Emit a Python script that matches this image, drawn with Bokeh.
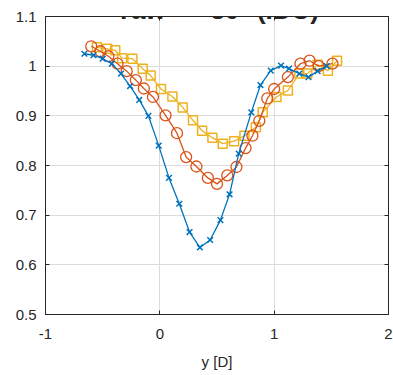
from bokeh.plotting import figure
from bokeh.models import (Range1d, FixedTicker, CustomJSTickFormatter, LinearAxis, Label)
from bokeh.embed import file_html
from bokeh.resources import INLINE

blue_x = [-0.66, -0.58, -0.50, -0.42, -0.34, -0.26, -0.18, -0.10, -0.01, 0.08, 0.17, 0.26, 0.35,
          0.44, 0.53, 0.61, 0.69, 0.80, 0.88, 0.97, 1.06, 1.13, 1.22, 1.30, 1.38, 1.46]
blue_y = [1.025, 1.022, 1.015, 1.005, 0.985, 0.960, 0.932, 0.900, 0.840, 0.775, 0.723, 0.666, 0.635,
          0.650, 0.690, 0.742, 0.824, 0.907, 0.962, 0.991, 1.001, 0.995, 0.985, 0.978, 0.990, 1.000]

red_x = [-0.60, -0.52, -0.45, -0.37, -0.29, -0.21, -0.14, -0.06, 0.05, 0.15, 0.23, 0.32, 0.42,
         0.50, 0.59, 0.67, 0.75, 0.81, 0.87, 0.94, 1.00, 1.12, 1.23, 1.31, 1.39, 1.51]
red_y = [1.040, 1.030, 1.020, 1.005, 0.990, 0.972, 0.955, 0.938, 0.901, 0.865, 0.817, 0.798, 0.775,
         0.763, 0.780, 0.797, 0.835, 0.860, 0.890, 0.935, 0.954, 0.978, 1.005, 1.011, 1.000, 1.005]

yel_x = [-0.55, -0.46, -0.39, -0.33, -0.24, -0.15, -0.08, 0.01, 0.11, 0.20, 0.29, 0.37, 0.46,
         0.55, 0.65, 0.74, 0.84, 0.90, 1.02, 1.12, 1.22, 1.29, 1.38, 1.47, 1.55]
yel_y = [1.038, 1.035, 1.032, 1.016, 1.015, 0.995, 0.981, 0.954, 0.939, 0.917, 0.891, 0.870, 0.856,
         0.844, 0.849, 0.860, 0.877, 0.907, 0.938, 0.951, 0.985, 0.985, 1.003, 0.991, 1.011]

x_ticks = [-1, 0, 1, 2]
y_ticks = [0.5, 0.6, 0.7, 0.8, 0.9, 1.0, 1.1]
title_text = "Yaw = \u221230\u00b0 (IDU)"
x_label = "y [D]"

FONT = "Liberation Sans"
TXT = "#262626"

p = figure(width=393, height=375, output_backend="svg", toolbar_location=None,
           x_range=Range1d(-1, 2), y_range=Range1d(0.5, 1.1),
           min_border_left=45, min_border_right=5, min_border_top=16, min_border_bottom=61)
p.outline_line_color = TXT
p.outline_line_width = 1
p.background_fill_color = "white"
p.border_fill_color = "white"

for ax in [p.xaxis[0], p.yaxis[0]]:
    ax.major_tick_in = 4
    ax.major_tick_out = 0
    ax.minor_tick_in = 0
    ax.minor_tick_out = 0
    ax.axis_line_color = TXT
    ax.major_tick_line_color = TXT
    ax.major_label_text_font = FONT
    ax.major_label_text_font_size = "15px"
    ax.major_label_text_color = TXT

p.xaxis[0].ticker = FixedTicker(ticks=x_ticks)
p.yaxis[0].ticker = FixedTicker(ticks=y_ticks)
fmt = CustomJSTickFormatter(code="return String(Number(tick.toFixed(2)));")
p.xaxis[0].formatter = fmt
p.yaxis[0].formatter = fmt
p.xaxis[0].major_label_standoff = 14
p.yaxis[0].major_label_standoff = 9
p.xaxis[0].axis_label = x_label
p.xaxis[0].axis_label_text_font = FONT
p.xaxis[0].axis_label_text_font_size = "15px"
p.xaxis[0].axis_label_text_font_style = "normal"
p.xaxis[0].axis_label_text_color = TXT
p.xaxis[0].axis_label_standoff = 11

blank = CustomJSTickFormatter(code="return '';")
for loc, tks in [("above", x_ticks), ("right", y_ticks)]:
    ax = LinearAxis(ticker=FixedTicker(ticks=tks), formatter=blank, major_tick_in=4,
                    major_tick_out=0, minor_tick_in=0, minor_tick_out=0,
                    major_label_text_font_size="1px", major_label_standoff=0,
                    axis_line_color=TXT, major_tick_line_color=TXT)
    p.add_layout(ax, loc)

p.xgrid.ticker = FixedTicker(ticks=x_ticks)
p.ygrid.ticker = FixedTicker(ticks=y_ticks)
p.grid.grid_line_color = "#dcdcdc"
p.grid.grid_line_width = 1

blue = "#0072BD"
red = "#D95319"
yel = "#EDB120"

p.line(yel_x, yel_y, line_color=yel, line_width=1.3)
p.scatter(yel_x, yel_y, marker="square", size=9, fill_color=None, line_color=yel, line_width=1.5)
p.line(red_x, red_y, line_color=red, line_width=1.3)
p.scatter(red_x, red_y, marker="circle", size=11, fill_color=None, line_color=red, line_width=1.3)
p.line(blue_x, blue_y, line_color=blue, line_width=1.3)
p.scatter(blue_x, blue_y, marker="x", size=8, line_color=blue, line_width=1.5)

p.add_layout(Label(x=0.5, y=1.1, y_offset=7, text=title_text, text_align="center",
                   text_baseline="alphabetic", text_font=FONT, text_font_size="26px",
                   text_font_style="bold", text_color=TXT))

open("out.html", "w").write(file_html(p, INLINE))
